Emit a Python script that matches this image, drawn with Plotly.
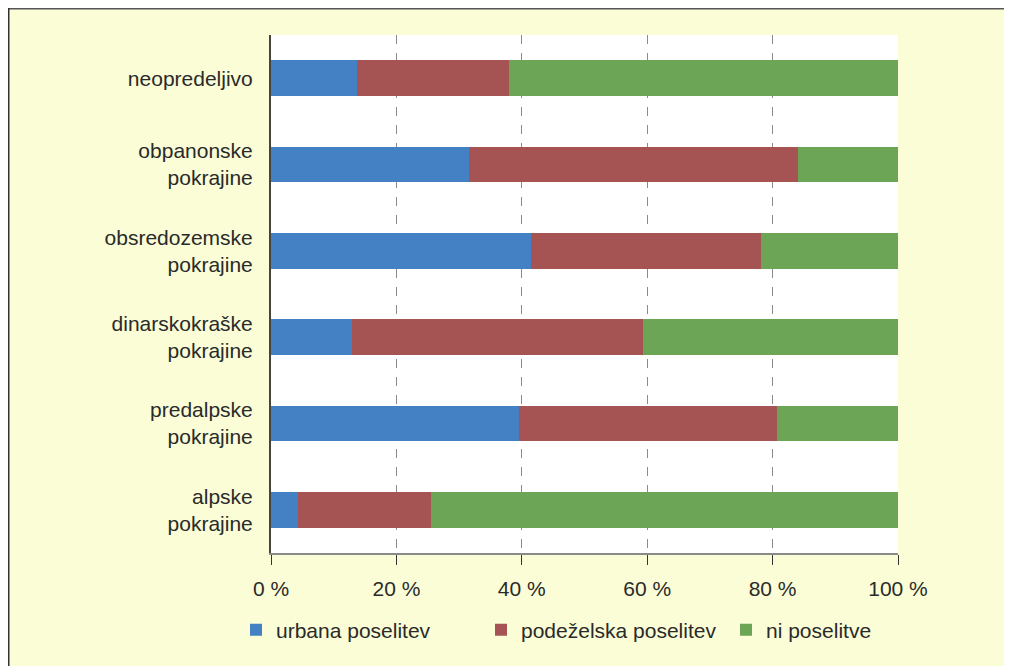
import plotly.graph_objects as go

categories = ["alpske<br>pokrajine", "predalpske<br>pokrajine", "dinarskokraške<br>pokrajine",
              "obsredozemske<br>pokrajine", "obpanonske<br>pokrajine", "neopredeljivo"]
urbana = [4.3, 39.6, 12.9, 41.5, 31.6, 13.7]
podezelska = [21.2, 41.1, 46.4, 36.6, 52.4, 24.3]
ni_poselitve = [74.5, 19.3, 40.7, 21.9, 16.0, 62.0]
series_names = ["urbana poselitev", "podeželska poselitev", "ni poselitve"]
colors = ["#4480C4", "#A55353", "#6DA556"]
tick_vals = [0, 20, 40, 60, 80, 100]
tick_text = ["0 %", "20 %", "40 %", "60 %", "80 %", "100 %"]

# page is offset by an 8px body margin
OFF = 8
W, H = 1012 - OFF, 666 - OFF
L, R, T, B = 271 - OFF, 898 - OFF, 35 - OFF, 553 - OFF
pw, ph = R - L, B - T

def px_x(p):
    return (p - L) / pw

def px_y(p):
    return (B - p) / ph

fig = go.Figure()
for name, vals, col in zip(series_names, [urbana, podezelska, ni_poselitve], colors):
    fig.add_trace(go.Bar(y=categories, x=vals, name=name, orientation="h",
                         marker=dict(color=col, line=dict(width=0))))

shapes = [
    # white plot area
    dict(type="rect", xref="paper", yref="paper", layer="below",
         x0=0, x1=1, y0=0, y1=1, fillcolor="white", line=dict(width=0)),
    # frame top and left lines
    dict(type="line", xref="paper", yref="paper", x0=px_x(0), x1=px_x(W + 20),
         y0=px_y(0.5), y1=px_y(0.5), line=dict(color="#555555", width=2)),
    dict(type="line", xref="paper", yref="paper", x0=px_x(0.5), x1=px_x(0.5),
         y0=px_y(H + 20), y1=px_y(0), line=dict(color="#333333", width=2)),
]

fig.update_layout(
    width=W, height=H,
    margin=dict(l=L, r=W - R, t=T, b=H - B, pad=0),
    paper_bgcolor="#FAFDD6", plot_bgcolor="rgba(0,0,0,0)",
    barmode="stack", bargap=0.59,
    font=dict(family="Liberation Sans, Arial, sans-serif", size=21, color="#2a2a2a"),
    shapes=shapes,
    showlegend=True,
    legend=dict(orientation="h", x=px_x(236 - OFF), xanchor="left",
                y=px_y(630 - OFF), yanchor="middle",
                font=dict(size=21, color="#2a2a2a"), bgcolor="rgba(0,0,0,0)",
                traceorder="normal", itemclick=False,
                entrywidth=200, entrywidthmode="pixels"),
    xaxis=dict(range=[0, 100], tickvals=tick_vals, ticktext=tick_text,
               showgrid=True, gridcolor="#8a8a8a", griddash="dash", gridwidth=1,
               showline=True, linecolor="#8a8a8a", linewidth=1.5,
               ticks="outside", ticklen=10, tickcolor="#333333", tickwidth=1,
               ticklabelstandoff=6, zeroline=False, fixedrange=True),
    yaxis=dict(showline=True, linecolor="#444444", linewidth=2, ticks="",
               ticklabelstandoff=12, showgrid=False, fixedrange=True,
               categoryorder="array", categoryarray=categories),
)

fig.write_html("out.html")
